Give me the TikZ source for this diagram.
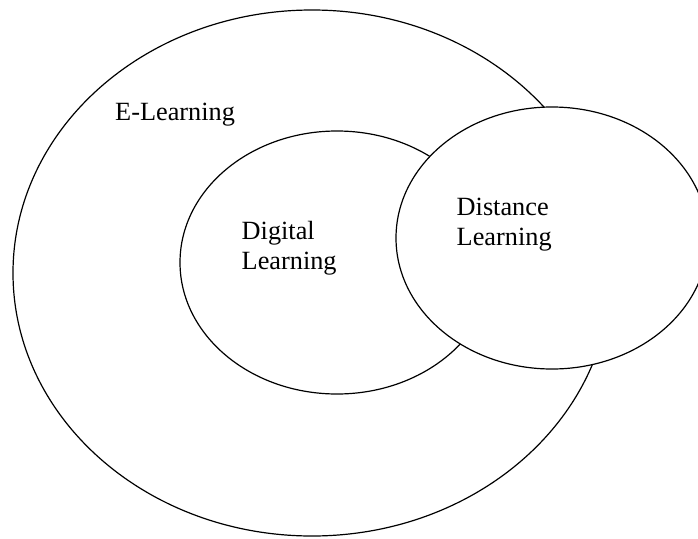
\documentclass[tikz,border=0pt]{standalone}
\usepackage{fontspec}
\setmainfont{Liberation Serif}
\usetikzlibrary{shapes.geometric}
\begin{document}
\begin{tikzpicture}[x=1pt,y=-1pt,
  oval/.style={ellipse,draw=black,line width=1.2pt,inner sep=0pt,outer sep=0pt},
  lbl/.style={anchor=base west,inner sep=0pt,font=\fontsize{26.3}{30}\selectfont}]
\useasboundingbox (0,0) rectangle (698,538);
\clip (0,0) rectangle (698,538);
\node[oval,minimum width=598pt,minimum height=526pt] (elearn) at (312,273) {};
\node[oval,minimum width=314pt,minimum height=263pt] (digital) at (337,262.5) {};
\node[oval,fill=white,minimum width=312pt,minimum height=262pt] (distance) at (552,238) {};
\node[lbl] (t1) at (115,120.7) {E-Learning};
\node[lbl] (t2) at (241.5,239.3) {Digital};
\node[lbl] (t3) at (241.5,269.3) {Learning};
\node[lbl] (t4) at (456.5,215) {Distance};
\node[lbl] (t5) at (456.5,245.7) {Learning};
\end{tikzpicture}
\end{document}
